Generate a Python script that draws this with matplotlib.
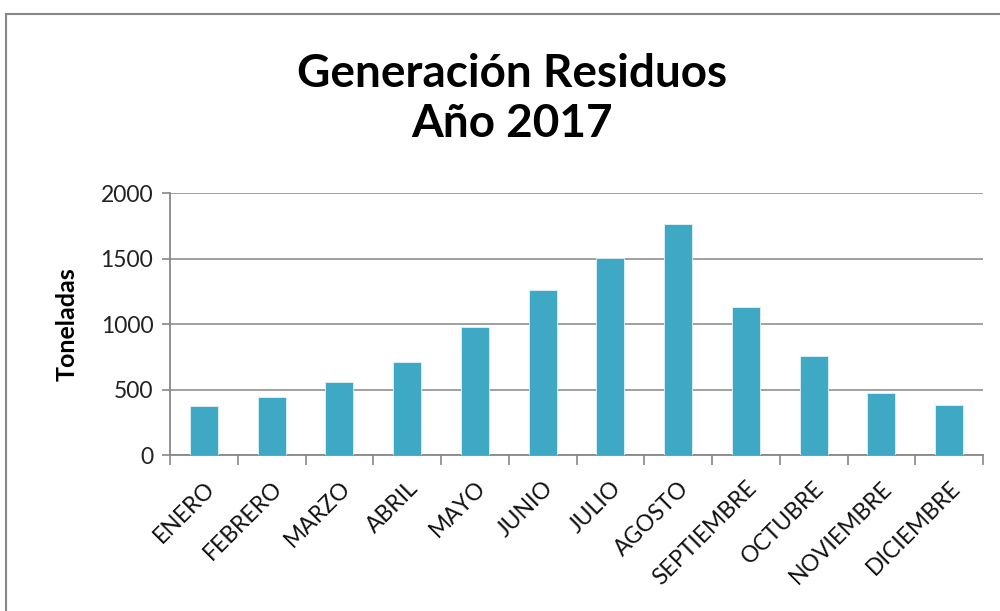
import numpy as np
import matplotlib.pyplot as plt
from matplotlib.patches import Rectangle

plt.rcParams['font.family'] = ['Lato', 'DejaVu Sans']

meses = ["ENERO", "FEBRERO", "MARZO", "ABRIL", "MAYO", "JUNIO", "JULIO",
         "AGOSTO", "SEPTIEMBRE", "OCTUBRE", "NOVIEMBRE", "DICIEMBRE"]
toneladas = [372, 443, 555, 710, 975, 1262, 1501, 1763, 1127, 759, 473, 380]
yticks = [0, 500, 1000, 1500, 2000]

fig = plt.figure(figsize=(10, 6.11), dpi=100)
# chart frame (only left and top edges visible in the reference)
fig.add_artist(Rectangle((0.006, -0.1), 1.2, 1.077, transform=fig.transFigure,
                         fill=False, edgecolor='#888888', linewidth=1.5))

ax = fig.add_axes([0.170, 0.255, 0.813, 0.429])
x = np.arange(len(meses))
ax.bar(x, toneladas, width=0.41, color='#3FA9C5', edgecolor='#E0F2F7',
       linewidth=0.6, zorder=3)

ax.set_xlim(-0.5, len(meses) - 0.5)
ax.set_ylim(0, 2000)
ax.set_yticks(yticks)
ax.set_yticklabels([str(v) for v in yticks], fontsize=16.5, color='#222222')
ax.yaxis.grid(True, color='#999999', linewidth=1.3, zorder=0)
ax.tick_params(axis='y', length=6, color='#888888', width=1.2, pad=6)

ax.set_xticks(x)
ax.set_xticklabels(meses, rotation=45, ha='right', rotation_mode='anchor',
                   fontsize=16.5, color='#111111')
ax.set_xticks(np.arange(-0.5, len(meses)), minor=True)
ax.tick_params(axis='x', which='major', length=0, pad=16)
ax.tick_params(axis='x', which='minor', length=7, color='#888888', width=1.2)

for side in ['top', 'right']:
    ax.spines[side].set_visible(False)
for side in ['left', 'bottom']:
    ax.spines[side].set_color('#888888')
    ax.spines[side].set_linewidth(1.3)

ax.set_ylabel("Toneladas", fontsize=18, fontweight='bold', labelpad=16)
fig.text(0.512, 0.838, "Generación Residuos\nAño 2017", ha='center', va='center',
         fontsize=33, fontweight='bold', linespacing=1.25)

fig.savefig("out.png", dpi=100)
